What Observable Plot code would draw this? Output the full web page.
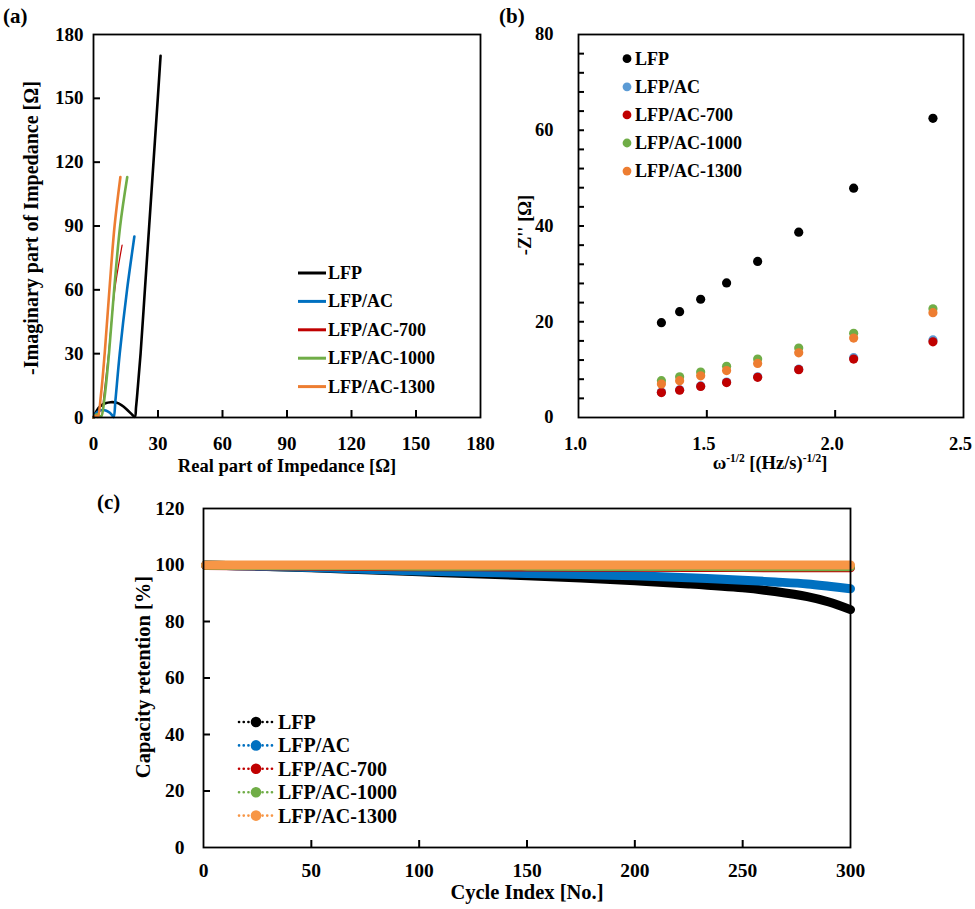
<!DOCTYPE html>
<html>
<head>
<meta charset="utf-8">
<script src="https://cdn.jsdelivr.net/npm/d3@7"></script>
<script src="https://cdn.jsdelivr.net/npm/@observablehq/plot@0.6"></script>
<style>
  body { margin: 0; background: #fff; }
  #root { position: relative; width: 975px; height: 909px; font-family: "Liberation Serif", "Times New Roman", serif; font-weight: bold; color: #000; overflow: hidden; }
  .abs { position: absolute; white-space: nowrap; line-height: 1; }
  .abs sup { font-size: 0.62em; vertical-align: 0.55em; line-height: 0; }
</style>
</head>
<body>
<div id="root"></div>
<script>
// ---------------- DATA ----------------
const seriesNames = ["LFP", "LFP/AC", "LFP/AC-700", "LFP/AC-1000", "LFP/AC-1300"];

// (a) Nyquist plot: real part (Ω) and -imaginary part (Ω)
const nyqRe_LFP  = [0, 1.5, 3, 5.5, 8, 10.5, 13, 15.5, 17.5, 19.2, 19.8, 20.6, 21.9, 23.9, 25.9, 27.9, 29.9, 31.2];
const nyqIm_LFP  = [0, 3.2, 5.2, 6.7, 7.2, 7.0, 5.8, 3.8, 1.8, 0.3, 5, 14, 30, 60, 90, 120, 150, 170];
const nyqRe_AC   = [0, 1, 2.5, 4.2, 6, 7.6, 8.8, 9.4, 10.2, 12.2, 15.6, 19.0];
const nyqIm_AC   = [0, 1.8, 3.0, 3.5, 3.2, 2.2, 0.9, 0.2, 8, 30, 60, 85];
const nyqRe_700  = [0, 1, 2, 3, 3.6, 4.8, 7.0, 9.9, 13.3];
const nyqIm_700  = [0, 1.2, 1.5, 1.0, 0.3, 10, 30, 60, 81];
const nyqRe_1000 = [0, 1, 2, 2.8, 3.6, 5.2, 7.2, 9.6, 12.4, 15.7];
const nyqIm_1000 = [0, 1.3, 1.5, 0.8, 0.4, 10, 30, 60, 90, 113];
const nyqRe_1300 = [0, 0.6, 1.3, 2.0, 3.4, 5.2, 7.4, 9.8, 12.5];
const nyqIm_1300 = [0, 0.8, 0.6, 0.3, 10, 30, 60, 90, 113];
const ticksA = [0, 30, 60, 90, 120, 150, 180];
const innerTicksA = [30, 60, 90, 120, 150];

// (b) -Z'' vs ω^-1/2
const omegaInvSqrt = [1.323, 1.394, 1.476, 1.577, 1.698, 1.858, 2.072, 2.381];
const zpp_LFP  = [19.8, 22.1, 24.7, 28.1, 32.6, 38.7, 47.9, 62.5];
const zpp_AC   = [5.3, 5.8, 6.6, 7.4, 8.5, 10.1, 12.5, 16.2];
const zpp_700  = [5.2, 5.7, 6.5, 7.3, 8.4, 10.0, 12.2, 15.8];
const zpp_1000 = [7.7, 8.5, 9.5, 10.7, 12.2, 14.5, 17.6, 22.7];
const zpp_1300 = [7.0, 7.7, 8.7, 9.8, 11.3, 13.5, 16.6, 21.9];
const xTicksB = [1.0, 1.5, 2.0, 2.5];
const xInnerTicksB = [1.5, 2.0];
const yTicksB = [0, 20, 40, 60, 80];
const yMinorTicksB = [4, 8, 12, 16, 20, 24, 28, 32, 36, 40, 44, 48, 52, 56, 60, 64, 68, 72, 76];

// (c) capacity retention vs cycle
const cycles   = [1, 25, 50, 75, 100, 125, 150, 175, 200, 225, 250, 265, 280, 290, 300];
const cap_LFP  = [100, 99.6, 99.0, 98.3, 97.6, 96.9, 96.2, 95.4, 94.4, 93.3, 91.9, 90.6, 88.8, 86.9, 84.2];
const cap_AC   = [100, 99.6, 99.1, 98.5, 97.9, 97.4, 97.0, 96.6, 96.2, 95.5, 94.6, 94.0, 93.3, 92.5, 91.6];
const cap_700  = [99.8, 99.7, 99.6, 99.5, 99.4, 99.4, 99.3, 99.2, 99.2, 99.1, 99.1, 99.0, 99.0, 99.0, 99.0];
const cap_1000 = [99.9, 99.8, 99.7, 99.7, 99.6, 99.6, 99.6, 99.5, 99.5, 99.5, 99.4, 99.4, 99.4, 99.4, 99.4];
const cap_1300 = [100, 100, 100, 100, 100, 100, 100, 100, 100, 100, 100, 100, 100, 100, 100];
const xTicksC = [0, 50, 100, 150, 200, 250, 300];
const xInnerTicksC = [50, 100, 150, 200, 250];
const yTicksC = [0, 20, 40, 60, 80, 100, 120];
const yInnerTicksC = [20, 40, 60, 80, 100];

const colorsA = ["#000000", "#0070C0", "#C00000", "#70AD47", "#ED7D31"];
const colorsB = ["#000000", "#5B9BD5", "#C00000", "#70AD47", "#ED7D31"];
const colorsC = ["#000000", "#0070C0", "#C00000", "#70AD47", "#F79646"];

// ---------------- TABLES ----------------
const nyqSets = [[nyqRe_LFP, nyqIm_LFP], [nyqRe_AC, nyqIm_AC], [nyqRe_700, nyqIm_700], [nyqRe_1000, nyqIm_1000], [nyqRe_1300, nyqIm_1300]];
const nyq = nyqSets.map(([re, im], i) => re.map((r, j) => ({series: seriesNames[i], re: r, im: im[j]})));
const zSets = [zpp_LFP, zpp_AC, zpp_700, zpp_1000, zpp_1300];
const warburg = zSets.map((z, i) => z.map((v, j) => ({series: seriesNames[i], w: omegaInvSqrt[j], z: v})));
const capSets = [cap_LFP, cap_AC, cap_700, cap_1000, cap_1300];
const capacity = capSets.map((c, i) => c.map((v, j) => ({series: seriesNames[i], cycle: cycles[j], value: v})));

// ---------------- HELPERS ----------------
const root = document.getElementById("root");
const svgStyle = (size) => ({fontFamily: "'Liberation Serif', 'Times New Roman', serif", fontSize: size + "px", fontWeight: "bold", background: "transparent", overflow: "visible"});
function place(el, left, top) {
  el.style.position = "absolute"; el.style.left = left + "px"; el.style.top = top + "px";
  root.appendChild(el);
}
function txt(html, x, y, size, anchor = "start", rotate = 0) {
  const d = document.createElement("div");
  d.className = "abs";
  d.innerHTML = html;
  d.style.left = x + "px"; d.style.top = y + "px"; d.style.fontSize = size + "px";
  const ax = anchor === "middle" ? "-50%" : anchor === "end" ? "-100%" : "0";
  d.style.transform = `translate(${ax},-50%)` + (rotate ? ` rotate(${rotate}deg)` : "");
  root.appendChild(d);
}
// inward tick marks: an ordinary outward tick shifted inside the frame by its own length
function innerTicksX(values, len = 7) {
  return Plot.axisX({ticks: values, tickSize: len, dy: -len, strokeWidth: 2, stroke: "black", fill: "none", label: null});
}
function innerTicksY(values, len = 7) {
  return Plot.axisY({ticks: values, tickSize: len, dx: len, strokeWidth: 2, stroke: "black", fill: "none", label: null});
}

// ---------------- PANEL (a) ----------------
const plotA = Plot.plot({
  width: 490, height: 480,
  marginLeft: 93, marginRight: 10, marginTop: 34, marginBottom: 63,
  style: svgStyle(19),
  x: {domain: [0, 180]},
  y: {domain: [0, 180]},
  marks: [
    Plot.axisX({ticks: ticksA, tickSize: 0, tickPadding: 19, label: null}),
    Plot.axisY({ticks: ticksA, tickSize: 0, tickPadding: 10, label: null}),
    innerTicksX(innerTicksA),
    innerTicksY(innerTicksA),
    ...nyq.map((d, i) => Plot.line(d, {x: "re", y: "im", stroke: colorsA[i], strokeWidth: i === 2 ? 1.2 : 2.6, curve: "catmull-rom"})),
    Plot.frame({stroke: "black", strokeWidth: 1.8})
  ]
});
place(plotA, 0, 0);

// ---------------- PANEL (b) ----------------
const plotB = Plot.plot({
  width: 485, height: 480,
  marginLeft: 88, marginRight: 12, marginTop: 34, marginBottom: 63,
  style: svgStyle(18.5),
  x: {domain: [1, 2.5]},
  y: {domain: [0, 80]},
  marks: [
    Plot.axisX({ticks: xTicksB, tickSize: 0, tickPadding: 19, dx: -3, tickFormat: d3.format(".1f"), label: null}),
    Plot.axisY({ticks: yTicksB, tickSize: 0, tickPadding: 25, label: null}),
    innerTicksX(xInnerTicksB),
    innerTicksY(yMinorTicksB, 6),
    ...warburg.map((d, i) => Plot.dot(d, {x: "w", y: "z", fill: colorsB[i], r: 4.6, stroke: "none"})),
    Plot.frame({stroke: "black", strokeWidth: 1.8})
  ]
});
place(plotB, 490, 0);

// ---------------- PANEL (c) ----------------
const plotC = Plot.plot({
  width: 975, height: 419,
  marginLeft: 203, marginRight: 125, marginTop: 18, marginBottom: 62,
  style: svgStyle(19.5),
  x: {domain: [0, 300]},
  y: {domain: [0, 120]},
  marks: [
    Plot.axisX({ticks: xTicksC, tickSize: 0, tickPadding: 16, label: null}),
    Plot.axisY({ticks: yTicksC, tickSize: 0, tickPadding: 19, label: null}),
    innerTicksX(xInnerTicksC),
    innerTicksY(yInnerTicksC),
    ...capacity.map((d, i) => Plot.line(d, {x: "cycle", y: "value", stroke: colorsC[i], strokeWidth: 9, strokeLinecap: "round", strokeLinejoin: "round", curve: "catmull-rom"})),
    Plot.frame({stroke: "black", strokeWidth: 1.8})
  ]
});
place(plotC, 0, 490);

// ---------------- TEXT ----------------
txt("(a)", 3, 16, 21);
txt("(b)", 499, 16, 21);
txt("(c)", 97, 502, 21);

txt("-Imaginary part of Impedance [Ω]", 31, 228, 20, "middle", -90);
txt("Real part of Impedance [Ω]", 287, 466, 18.5, "middle");
txt("-Z'' [Ω]", 525, 225, 18.5, "middle", -90);
txt("ω<sup>-1/2</sup> [(Hz/s)<sup>-1/2</sup>]", 770, 463, 18.5, "middle");
txt("Capacity retention [%]", 143, 677, 20.5, "middle", -90);
txt("Cycle Index [No.]", 527, 892, 20.5, "middle");

// ---------------- LEGENDS ----------------
const ov = d3.create("svg").attr("width", 975).attr("height", 909)
  .style("position", "absolute").style("left", "0px").style("top", "0px").style("overflow", "visible").style("pointer-events", "none");
root.appendChild(ov.node());

// (a) legend: solid line samples
seriesNames.forEach((s, i) => {
  const y = 273 + i * 28.4;
  ov.append("line").attr("x1", 298).attr("x2", 326).attr("y1", y).attr("y2", y)
    .attr("stroke", colorsA[i]).attr("stroke-width", 3);
  txt(s, 328, y, 18);
});

// (b) legend: dots
seriesNames.forEach((s, i) => {
  const y = 58.7 + i * 28.1;
  ov.append("circle").attr("cx", 627).attr("cy", y).attr("r", 4.4).attr("fill", colorsB[i]);
  txt(s, 635, y, 18);
});

// (c) legend: dotted line with dot
seriesNames.forEach((s, i) => {
  const y = 722 + i * 23.4;
  ov.append("line").attr("x1", 239).attr("x2", 273).attr("y1", y).attr("y2", y)
    .attr("stroke", colorsC[i]).attr("stroke-width", 2.6)
    .attr("stroke-dasharray", "0.1 4.6").attr("stroke-linecap", "round");
  ov.append("circle").attr("cx", 256).attr("cy", y).attr("r", 5.3).attr("fill", colorsC[i]);
  txt(s, 278, y, 20);
});
</script>
</body>
</html>
